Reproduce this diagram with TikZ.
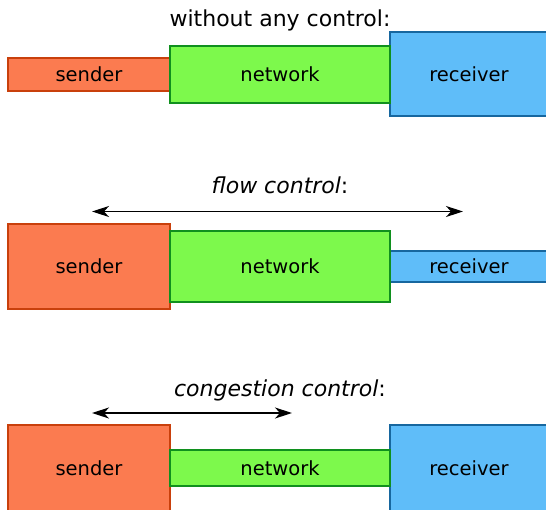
\documentclass[tikz,border=0pt]{standalone}
\usepackage{fontspec}
\setmainfont{DejaVu Sans}
\usetikzlibrary{arrows.meta}
\definecolor{sendfill}{HTML}{FB7B50}
\definecolor{senddraw}{HTML}{C9400C}
\definecolor{netfill}{HTML}{7DF94C}
\definecolor{netdraw}{HTML}{10901E}
\definecolor{recfill}{HTML}{5FBDF9}
\definecolor{recdraw}{HTML}{17679F}
\begin{document}
\begin{tikzpicture}[x=1pt,y=-1pt,
  box/.style={draw, line width=2pt, inner sep=0pt, outer sep=0pt,
    font=\fontsize{19.5}{23}\selectfont},
  sendbox/.style={box, fill=sendfill, draw=senddraw, minimum width=162pt},
  netbox/.style={box, fill=netfill, draw=netdraw, minimum width=220pt},
  recbox/.style={box, fill=recfill, draw=recdraw, minimum width=158pt},
  title/.style={anchor=base, inner sep=0pt, font=\fontsize{22}{26}\selectfont},
  span/.style={line width=1.3pt,
    {Stealth[length=17pt,width=11pt,inset=5pt]}-{Stealth[length=17pt,width=11pt,inset=5pt]}}]
\useasboundingbox (0,0) rectangle (546,509);
\clip (0,0) rectangle (546,509);

% row 1
\node[title] (t1) at (280,26) {without any control:};
\node[sendbox, minimum height=33pt] (s1) at (89,74.5) {sender};
\node[recbox, minimum height=84pt] (r1) at (469,74) {receiver};
\node[netbox, minimum height=57pt] (n1) at (280,74.5) {network};

% row 2
\node[title] (t2) at (280,193) {\textit{flow control}:};
\coordinate (a2l) at (92,211.5);
\coordinate (a2r) at (463,211.5);
\draw[span] (a2l) -- (a2r);
\node[sendbox, minimum height=85pt] (s2) at (89,266.5) {sender};
\node[recbox, minimum height=31pt] (r2) at (469,266.5) {receiver};
\node[netbox, minimum height=71pt] (n2) at (280,266.5) {network};

% row 3
\node[title] (t3) at (280,396) {\textit{congestion control}:};
\coordinate (a3l) at (92,413);
\coordinate (a3r) at (292,413);
\draw[span] (a3l) -- (a3r);
\node[sendbox, minimum height=86pt] (s3) at (89,468) {sender};
\node[recbox, minimum height=86pt] (r3) at (469,468) {receiver};
\node[netbox, minimum height=36pt] (n3) at (280,468) {network};
\end{tikzpicture}
\end{document}
